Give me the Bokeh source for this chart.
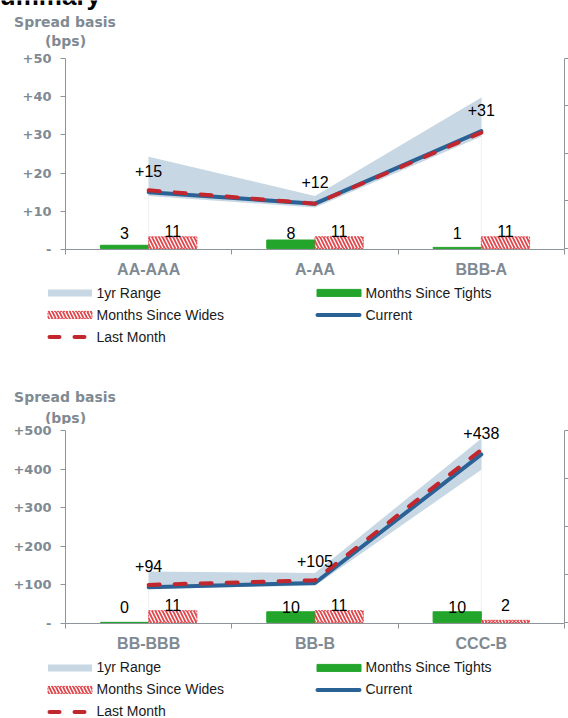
import numpy as np
from bokeh.plotting import figure
from bokeh.models import (Range1d, LinearAxis, FixedTicker, Legend, LegendItem, Label,
                          CustomLabelingPolicy)
from bokeh.layouts import column
from bokeh.embed import file_html
from bokeh.resources import INLINE
from bokeh.core.properties import value

# ---------------- data ----------------
top_categories = ["AA-AAA", "A-AA", "BBB-A"]
top_current = [15, 12, 31]
top_last_month = [15.5, 12, 30.6]
top_range_low = [14, 11, 29.6]
top_range_high = [24.3, 14, 39.8]
top_months_tights = [3, 8, 1]
top_months_wides = [11, 11, 11]
top_y_ticks = [0, 10, 20, 30, 40, 50]
top_y_labels = ["-", "+10", "+20", "+30", "+40", "+50"]

bot_categories = ["BB-BBB", "BB-B", "CCC-B"]
bot_current = [94, 105, 438]
bot_last_month = [100, 112, 450]
bot_range_low = [90, 98, 398]
bot_range_high = [135, 131, 479]
bot_months_tights = [0, 10, 10]
bot_months_wides = [11, 11, 2]
bot_y_ticks = [0, 100, 200, 300, 400, 500]
bot_y_labels = ["-", "+100", "+200", "+300", "+400", "+500"]

month_ticks = [0, 45, 90, 135, 180]

legend_labels = ["1yr Range", "Months Since Tights", "Months Since Wides", "Current", "Last Month"]
title_text = "Summary"
axis_title = ["Spread basis", "(bps)"]

# ---------------- style ----------------
GREY_TXT = "#7f8a93"
GREY_AX = "#8e9499"
BAND = "#c8d7e4"
BLUE = "#2b6296"
RED = "#c1272d"
HATCH_RED = "#e0474c"
GREEN = "#22a52a"
W = 568

BAND_STYLE = dict(fill_color=BAND)
TIGHT_STYLE = dict(fill_color=GREEN, line_color=GREEN, line_width=1)
WIDE_STYLE = dict(fill_color="white", line_color=HATCH_RED, line_dash="2 1", line_width=1,
                  hatch_pattern="\\", hatch_color=HATCH_RED, hatch_scale=7, hatch_weight=1.8)
CUR_STYLE = dict(line_color=BLUE, line_width=4, line_cap="round", line_join="round")
LAST_STYLE = dict(line_color=RED, line_width=4, line_dash="11 15", line_cap="round")
# legend-only line styles (trimmed so they match the inset area swatches)
CUR_LEG_STYLE = dict(line_color=BLUE, line_width=4, line_cap="round",
                     line_dash="42 200", line_dash_offset=236)
LAST_LEG_STYLE = dict(line_color=RED, line_width=4, line_cap="round",
                      line_dash="10 15 10 200", line_dash_offset=228)


def blank_fig(height):
    p = figure(width=W, height=height, output_backend="svg", toolbar_location=None, tools="",
               x_axis_location=None, y_axis_location=None, min_border=0,
               min_border_left=0, min_border_right=0, min_border_top=0, min_border_bottom=0,
               frame_align=False, x_range=Range1d(0, 1), y_range=Range1d(0, 1))
    p.outline_line_color = None
    p.xgrid.visible = False
    p.ygrid.visible = False
    return p


def header(height, y_line1, y_line2, title=None):
    p = blank_fig(height)
    common = dict(x_units="screen", y_units="screen", text_align="center",
                  text_baseline="middle", text_font="DejaVu Sans", text_font_style="bold",
                  text_font_size="14px", text_color=GREY_TXT)
    p.add_layout(Label(x=64.5, y=height - y_line1, text=axis_title[0], **common))
    p.add_layout(Label(x=65, y=height - y_line2, text=axis_title[1], **common))
    if title:
        p.add_layout(Label(x=-18, y=height + 5, x_units="screen", y_units="screen",
                           text=title, text_align="left", text_baseline="alphabetic",
                           text_font="Liberation Sans", text_font_style="bold",
                           text_font_size="26px", text_color="black"))
    return p


def legend_fig(height, top):
    p = blank_fig(height)
    nan = np.array([np.nan])
    r_band = p.varea(x=nan, y1=nan, y2=nan, **BAND_STYLE)
    r_t = p.vbar(x=nan, width=0.1, top=nan, **TIGHT_STYLE)
    r_w = p.vbar(x=nan, width=0.1, top=nan, **WIDE_STYLE)
    r_c = p.line(x=nan, y=nan, **CUR_LEG_STYLE)
    r_l = p.line(x=nan, y=nan, **LAST_LEG_STYLE)
    rows, row_h, sp = 3, 18, 4
    leg_h = rows * row_h + (rows - 1) * sp
    legend = Legend(items=[LegendItem(label=l, renderers=[r]) for l, r in
                           zip(legend_labels, [r_band, r_t, r_w, r_c, r_l])],
                    location=(41.5, height - top - leg_h), orientation="horizontal", ncols=2,
                    glyph_width=55, glyph_height=9, label_standoff=0, label_width=210,
                    label_height=row_h, spacing=sp, padding=0, margin=0,
                    border_line_color=None, background_fill_alpha=0,
                    label_text_font="Liberation Sans", label_text_font_size="14px",
                    label_text_color="#1a1a1a")
    p.add_layout(legend)
    return p


def chart(cats, current, last, low, high, tights, wides, yticks, ylabels,
          height, axis_h, pad, bottom_border):
    ymax = yticks[-1]
    frame_h = axis_h + pad
    m0 = -1.0
    k = axis_h / (month_ticks[-1] - m0)
    p = figure(width=W, height=height, output_backend="svg", toolbar_location=None,
               tools="", min_border_left=65, min_border_right=4, min_border_top=0,
               min_border_bottom=bottom_border, frame_align=False,
               x_range=Range1d(0, len(cats)), y_range=Range1d(0, ymax * frame_h / axis_h))
    p.extra_y_ranges = {"months": Range1d(m0, m0 + frame_h / k)}
    p.outline_line_color = None
    p.xgrid.visible = False
    p.ygrid.visible = False

    xs = [i + 0.5 for i in range(len(cats))]
    bw = 0.29
    xg = [x - bw / 2 for x in xs]
    xr = [x + bw / 2 for x in xs]

    p.segment(x0=[xs[0], xs[-1]], y0=[0, 0], x1=[xs[0], xs[-1]], y1=[high[0], high[-1]],
              line_color="#eceff2", line_width=1)
    p.vbar(x=xg, width=bw, top=tights, bottom=0, y_range_name="months", **TIGHT_STYLE)
    p.vbar(x=xr, width=bw, top=wides, bottom=0, y_range_name="months", **WIDE_STYLE)
    p.varea(x=xs, y1=low, y2=high, **BAND_STYLE)
    p.line(x=xs, y=current, **CUR_STYLE)
    p.line(x=xs, y=last, **LAST_STYLE)

    txt = dict(text_align="center", text_baseline="middle",
               text_font=value("Liberation Sans"), text_font_size="16px", text_color="black")
    p.text(x=xs, y=current, text=["+%g" % v for v in current], y_offset=-21.5, **txt)
    p.text(x=xg, y=[0] * len(xg), text=[str(v) for v in tights], y_range_name="months",
           y_offset=-15.5, **txt)
    p.text(x=xr, y=[0] * len(xr), text=[str(v) for v in wides], y_range_name="months",
           y_offset=-17.5, **txt)

    xa = p.xaxis[0]
    xa.ticker = FixedTicker(ticks=xs, minor_ticks=list(range(len(cats) + 1)))
    xa.major_label_overrides = {x: c for x, c in zip(xs, cats)}
    xa.major_tick_out = 0
    xa.major_tick_in = 0
    xa.minor_tick_out = 5
    xa.minor_tick_in = 0
    xa.minor_tick_line_color = GREY_AX
    xa.axis_line_color = GREY_AX
    xa.major_label_text_font = "Liberation Sans"
    xa.major_label_text_font_style = "bold"
    xa.major_label_text_font_size = "16px"
    xa.major_label_text_color = GREY_TXT
    xa.major_label_standoff = 6

    ya = p.yaxis[0]
    ya.bounds = (0, ymax)
    ya.ticker = FixedTicker(ticks=yticks, minor_ticks=[])
    ya.major_label_overrides = {t: l for t, l in zip(yticks, ylabels)}
    ya.major_tick_out = 5
    ya.major_tick_in = 0
    ya.major_tick_line_color = GREY_AX
    ya.axis_line_color = GREY_AX
    ya.major_label_text_font = "DejaVu Sans"
    ya.major_label_text_font_style = "bold"
    ya.major_label_text_font_size = "13px"
    ya.major_label_text_color = GREY_TXT
    ya.major_label_standoff = 9

    ra = LinearAxis(y_range_name="months", bounds=(m0, month_ticks[-1]),
                    ticker=FixedTicker(ticks=month_ticks, minor_ticks=[]))
    ra.major_tick_out = 4
    ra.major_tick_in = 0
    ra.major_tick_line_color = GREY_AX
    ra.axis_line_color = GREY_AX
    ra.major_label_text_font_size = "0px"
    ra.major_label_standoff = 0
    ra.major_label_policy = CustomLabelingPolicy(
        code="for (const i of indices) indices.unset(i); return indices")
    p.add_layout(ra, "right")
    return p


h1 = header(50, 21, 40.5, title=title_text)
c1 = chart(top_categories, top_current, top_last_month, top_range_low, top_range_high,
           top_months_tights, top_months_wides, top_y_ticks, top_y_labels,
           height=230, axis_h=191, pad=8, bottom_border=31)
l1 = legend_fig(92, 3.7)
h2 = header(52, 24, 45)
c2 = chart(bot_categories, bot_current, bot_last_month, bot_range_low, bot_range_high,
           bot_months_tights, bot_months_wides, bot_y_ticks, bot_y_labels,
           height=230, axis_h=194, pad=6, bottom_border=30)
l2 = legend_fig(64, 4.3)

layout = column(h1, c1, l1, h2, c2, l2, spacing=0)
open("out.html", "w").write(file_html(layout, INLINE))
